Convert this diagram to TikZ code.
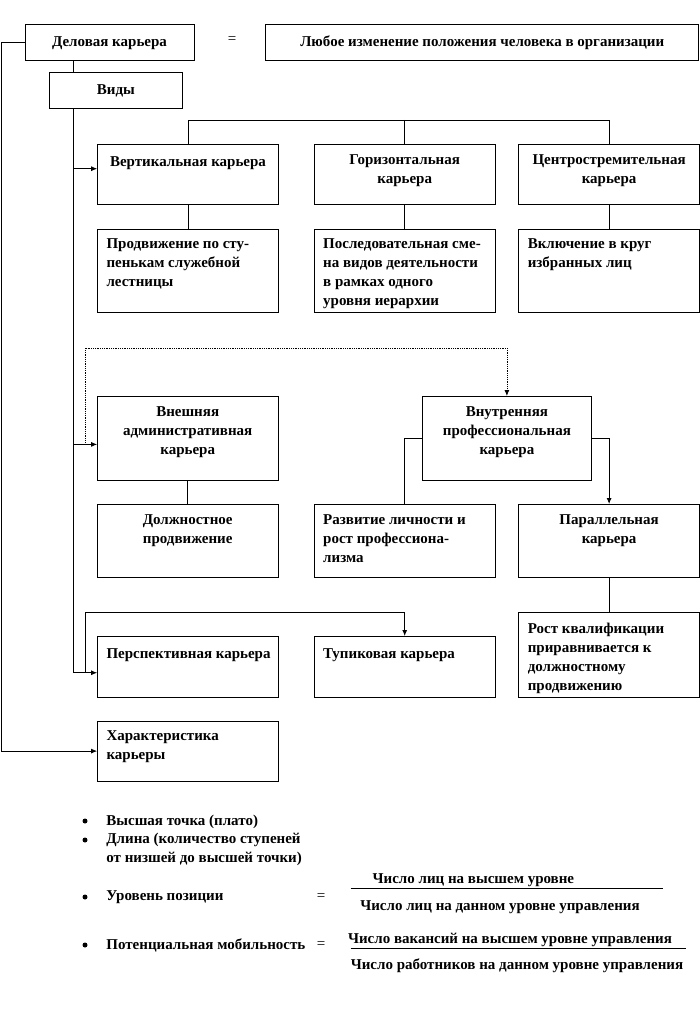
\documentclass[tikz,border=0pt]{standalone}
\usepackage{fontspec}
\setmainfont{Liberation Serif}
\usetikzlibrary{arrows.meta}

\tikzset{
  kbox/.style 2 args={draw, anchor=north west, inner sep=0pt, minimum width=#1, minimum height=#2},
  ctop/.style={anchor=north, yshift=-10pt, align=center, inner sep=0pt},
  ltop/.style={anchor=north west, xshift=9pt, yshift=-10pt, align=left, inner sep=0pt},
  txt/.style={inner sep=0pt, align=left},
  bul/.style={circle, fill, inner sep=0pt, minimum size=5pt},
}

\begin{document}
\begin{tikzpicture}[x=1pt, y=-1pt, line width=0.8pt, >={Latex[length=6pt,width=5pt]},
    font=\bfseries\fontsize{15pt}{19pt}\selectfont]
      \useasboundingbox (0,0) rectangle (700,1032);
      \coordinate (lft) at (1,0);
      \coordinate (spine) at (73,0);
      \coordinate (brk) at (0,120);
      \coordinate (top1) at (85,348);
      \coordinate (top2) at (85,612);
      % head
      \node[kbox={169pt}{36pt}] (del) at (24.6,24.3) {Деловая карьера};
      \node[inner sep=0pt] (eq0) at (232,40) {\mdseries =};
      \node[kbox={433pt}{36pt}] (lub) at (265.4,24.3) {Любое изменение положения человека в организации};
      \node[kbox={133.4pt}{36pt}] (vid) at (48.8,72) {Виды};
      % first row
      \node[kbox={181pt}{60pt}, label={[ctop, yshift=-2pt]north:{Вертикальная карьера}}] (vert) at (97.1,144.3) {};
      \node[kbox={181pt}{60pt}, label={[ctop]north:{Горизонтальная\\карьера}}] (gor) at (313.8,144.3) {};
      \node[kbox={180.6pt}{60pt}, label={[ctop]north:{Центростремительная\\карьера}}] (cent) at (518.4,144.3) {};
      \node[kbox={181pt}{83.6pt}, label={[ltop]north west:{Продвижение по сту-\\пенькам служебной\\лестницы}}] (vertd) at (97.1,228.7) {};
      \node[kbox={181pt}{83.6pt}, label={[ltop]north west:{Последовательная сме-\\на видов деятельности\\в рамках одного\\уровня иерархии}}] (gord) at (313.8,228.7) {};
      \node[kbox={180.6pt}{83.6pt}, label={[ltop]north west:{Включение в круг\\избранных лиц}}] (centd) at (518.4,228.7) {};
      % second block
      \node[kbox={180.4pt}{84pt}, label={[ctop]north:{Внешняя\\административная\\карьера}}] (vnesh) at (97.1,396) {};
      \node[kbox={169pt}{84pt}, label={[ctop]north:{Внутренняя\\профессиональная\\карьера}}] (vnutr) at (422,396) {};
      \node[kbox={180.4pt}{72.7pt}, label={[ctop]north:{Должностное\\продвижение}}] (dolzh) at (97.1,504) {};
      \node[kbox={181pt}{72.7pt}, label={[ltop]north west:{Развитие личности и\\рост профессиона-\\лизма}}] (razv) at (313.8,504) {};
      \node[kbox={180.6pt}{72.7pt}, label={[ctop]north:{Параллельная\\карьера}}] (paral) at (518.4,504) {};
      \node[kbox={180.6pt}{84.4pt}, label={[ltop]north west:{Рост квалификации\\приравнивается к\\должностному\\продвижению}}] (rost) at (518.4,612.3) {};
      \node[kbox={181pt}{60.7pt}, label={[ltop, yshift=-2pt]north west:{Перспективная карьера}}] (persp) at (97.1,636) {};
      \node[kbox={181pt}{60.7pt}, label={[ltop, yshift=-2pt]north west:{Тупиковая карьера}}] (tup) at (313.8,636) {};
      \node[kbox={181pt}{60pt}, label={[ltop]north west:{Характеристика\\карьеры}}] (xar) at (97.1,720.7) {};
      % connectors
      \draw[->] (del.west) -- (del.west -| lft) |- (xar.west);
      \draw (del.south -| spine) -- (vid.north -| spine);
      \draw[->] (vid.south -| spine) |- ([yshift=-6pt]persp.west);
      \draw[->] ([yshift=6pt]vert.west -| spine) -- ([yshift=6pt]vert.west);
      \draw[->] ([yshift=-6pt]vnesh.west -| spine) -- ([yshift=-6pt]vnesh.west);
      \draw (vert.north) -- (vert.north |- brk) -- (cent.north |- brk) -- (cent.north);
      \draw (gor.north |- brk) -- (gor.north);
      \draw (vert.south) -- (vertd.north);
      \draw (gor.south) -- (gord.north);
      \draw (cent.south) -- (centd.north);
      \draw[->, densely dotted] ([yshift=-6pt]vnesh.west -| top1) -- (top1) -| (vnutr.north);
      \draw (vnesh.south) -- (dolzh.north);
      \draw (vnutr.west) -| (razv.north);
      \draw[->] (vnutr.east) -| (paral.north);
      \draw (paral.south) -- (rost.north);
      \draw[->] ([yshift=-6pt]persp.west -| top2) -- (top2) -| (tup.north);
      % characteristics
      \node[bul] (b1) at (85,821) {};
      \node[bul] (b2) at (85,840) {};
      \node[bul] (b3) at (85,897) {};
      \node[bul] (b4) at (85,945) {};
      \node[txt, anchor=west] (plato) at (106,822) {Высшая точка (плато)};
      \node[txt, anchor=north west] (dlina) at (106,833) {Длина (количество ступеней\\от низшей до высшей точки)};
      \node[txt, anchor=west] (urov) at (106,897) {Уровень позиции};
      \node[txt, anchor=west] (mob) at (106,945) {Потенциальная мобильность};
      \node[inner sep=0pt] (eq1) at (321,897) {\mdseries =};
      \node[inner sep=0pt] (eq2) at (321,945) {\mdseries =};
      \coordinate (fa1) at (350.5,888.3);
      \coordinate (fb1) at (662.5,888.3);
      \coordinate (fa2) at (350.5,948.3);
      \coordinate (fb2) at (685.8,948.3);
      \draw (fa1) -- (fb1);
      \draw (fa2) -- (fb2);
      \node[inner sep=0pt] (num1) at (473.4,880) {Число лиц на высшем уровне};
      \node[inner sep=0pt] (den1) at (500,906.7) {Число лиц на данном уровне управления};
      \node[inner sep=0pt] (num2) at (510,940) {Число вакансий на высшем уровне управления};
      \node[inner sep=0pt] (den2) at (517,965.7) {Число работников на данном уровне управления};
\end{tikzpicture}
\end{document}
